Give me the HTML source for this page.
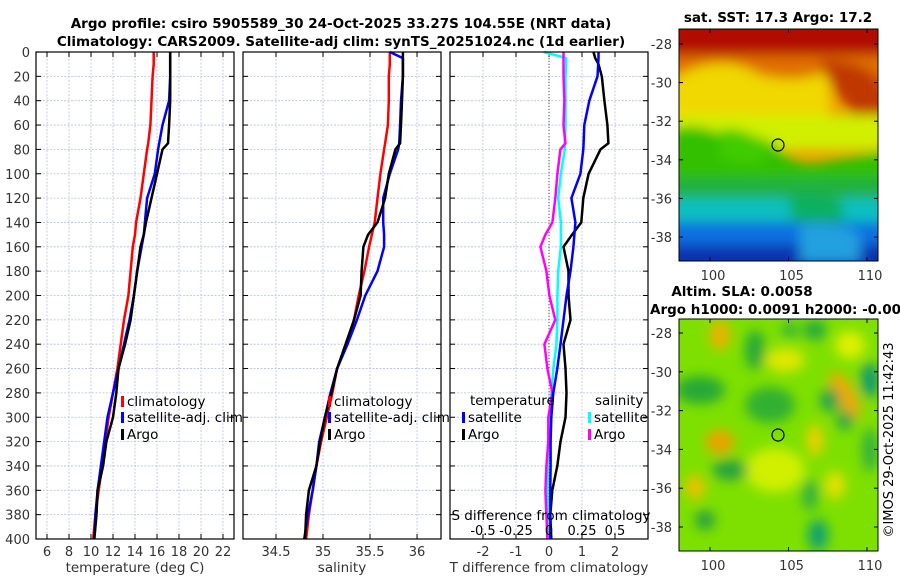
<!DOCTYPE html>
<html><head><meta charset="utf-8"><style>
body{margin:0;background:#fff;}
svg{display:block;font-family:"DejaVu Sans","Liberation Sans",sans-serif;}
</style></head><body>
<svg id="fig" width="900" height="580" viewBox="0 0 900 580" xmlns="http://www.w3.org/2000/svg">
<defs>
<filter id="blur6"><feGaussianBlur stdDeviation="6"/></filter>
<clipPath id="cm1"><rect x="679" y="29" width="199" height="232"/></clipPath>
<clipPath id="cm2"><rect x="679" y="319" width="199" height="232"/></clipPath>
</defs>
<g font-weight="bold" font-size="13.5" text-anchor="middle" fill="#000">
<text x="341" y="28">Argo profile: csiro 5905589_30 24-Oct-2025 33.27S 104.55E (NRT data)</text>
<text x="341" y="46">Climatology: CARS2009. Satellite-adj clim: synTS_20251024.nc (1d earlier)</text>
<text x="778" y="22">sat. SST: 17.3 Argo: 17.2</text>
<text x="742" y="296">Altim. SLA: 0.0058</text>
<text x="650" y="314" text-anchor="start">Argo h1000: 0.0091 h2000: -0.007</text>
</g>
<g id="panels"></g>
<g clip-path="url(#cm1)">
<rect x="679" y="29" width="199" height="232" fill="#f0a000"/>
<g filter="url(#blur6)">
<rect x="660" y="10" width="240" height="45" fill="#b01000"/>
<rect x="660" y="55" width="240" height="30" fill="#e07000"/>
<path d="M670 80 Q720 50 760 75 Q800 85 830 70 L830 130 L670 130Z" fill="#f0d800"/>
<path d="M820 60 Q880 60 890 100 L890 140 Q860 140 850 110 Q830 90 820 60Z" fill="#c03800"/>
<rect x="660" y="115" width="240" height="35" fill="#d0f000"/>
<path d="M670 130 Q700 120 730 140 Q760 130 780 150 Q800 170 830 160 L890 150 L890 180 L670 180Z" fill="#30c000"/>
<path d="M720 130 Q740 125 770 145 L760 165 L720 160Z" fill="#40cc00"/>
<rect x="660" y="178" width="240" height="22" fill="#20b040"/>
<rect x="660" y="198" width="240" height="25" fill="#10c0c0"/>
<path d="M790 195 Q820 190 840 200 Q850 225 830 240 Q800 230 790 215Z" fill="#10b060"/>
<rect x="660" y="222" width="240" height="25" fill="#1070e0"/>
<rect x="660" y="245" width="240" height="30" fill="#0830b0"/>
<path d="M800 225 Q840 220 860 235 L860 262 L800 262Z" fill="#20a0e0"/>
</g>
</g>
<rect x="679" y="29" width="199" height="232" fill="none" stroke="#000"/>
<ellipse cx="778" cy="145" rx="6" ry="6" fill="none" stroke="#000" stroke-width="1.2"/>
<g clip-path="url(#cm2)">
<rect x="679" y="319" width="199" height="232" fill="#7ee000"/>
<g filter="url(#blur6)">
<ellipse cx="720" cy="335" rx="10" ry="15" fill="#f0b000"/>
<ellipse cx="785" cy="360" rx="20" ry="12" fill="#e0e800"/>
<ellipse cx="850" cy="345" rx="15" ry="14" fill="#e0f000"/>
<ellipse cx="845" cy="395" rx="10" ry="26" fill="#f0a800" transform="rotate(-30 845 395)"/>
<ellipse cx="720" cy="442" rx="14" ry="12" fill="#f0a000"/>
<ellipse cx="695" cy="487" rx="10" ry="12" fill="#f0c000"/>
<ellipse cx="775" cy="470" rx="30" ry="22" fill="#d0f000"/>
<ellipse cx="815" cy="440" rx="8" ry="16" fill="#f0d000"/>
<ellipse cx="835" cy="485" rx="10" ry="14" fill="#e8e000"/>
<ellipse cx="700" cy="390" rx="25" ry="14" fill="#28a838"/>
<ellipse cx="770" cy="405" rx="25" ry="18" fill="#30b030"/>
<ellipse cx="755" cy="350" rx="10" ry="20" fill="#28a838"/>
<ellipse cx="815" cy="330" rx="12" ry="10" fill="#28a840"/>
<ellipse cx="870" cy="380" rx="9" ry="18" fill="#109870"/>
<ellipse cx="830" cy="400" rx="10" ry="12" fill="#20a050"/>
<ellipse cx="845" cy="420" rx="8" ry="10" fill="#20a050"/>
<ellipse cx="730" cy="470" rx="18" ry="10" fill="#28a040"/>
<ellipse cx="705" cy="520" rx="10" ry="10" fill="#28a040"/>
<ellipse cx="818" cy="535" rx="10" ry="16" fill="#10a070"/>
<ellipse cx="810" cy="495" rx="8" ry="16" fill="#30b040"/>
<ellipse cx="870" cy="450" rx="8" ry="22" fill="#30b040"/>
<ellipse cx="790" cy="330" rx="8" ry="8" fill="#30b040"/>
</g>
</g>
<rect x="679" y="319" width="199" height="232" fill="none" stroke="#000"/>
<ellipse cx="778" cy="435" rx="6" ry="6" fill="none" stroke="#000" stroke-width="1.2"/>
<g id="mapaxes" font-size="13" fill="#333"></g>
<text x="893" y="440" font-size="13" fill="#000" text-anchor="middle" transform="rotate(-90 893 440)">©IMOS 29-Oct-2025 11:42:43</text>
</svg>
<script>
const depths = [0,5,10,20,40,60,75,80,100,120,140,150,160,180,200,220,240,260,280,300,320,340,360,380,400];
const tempClim = [15.7,15.7,15.7,15.6,15.5,15.4,15.2,15.1,14.8,14.5,14.1,14.0,13.8,13.6,13.4,13.0,12.7,12.4,12.0,11.6,11.3,11.0,10.7,10.4,10.2];
const tempSat  = [17.2,17.2,17.2,17.2,17.1,16.5,16.2,16.1,15.8,15.1,14.9,14.8,14.6,14.2,13.9,13.5,13.0,12.5,12.0,11.5,11.2,10.9,10.6,10.4,10.3];
const tempArgo = [17.2,17.2,17.2,17.2,17.2,17.1,17.0,16.5,16.0,15.5,15.0,14.8,14.5,14.2,13.9,13.6,13.1,12.5,12.3,12.0,11.4,11.1,10.6,10.5,10.3];
const salClim = [35.71,35.71,35.71,35.70,35.70,35.69,35.66,35.65,35.61,35.58,35.55,35.52,35.49,35.44,35.38,35.33,35.25,35.15,35.10,35.04,34.98,34.93,34.89,34.85,34.82];
const salSat  = [35.71,35.85,35.85,35.85,35.83,35.82,35.81,35.80,35.71,35.64,35.64,35.65,35.65,35.58,35.45,35.36,35.26,35.15,35.08,35.02,34.96,34.93,34.89,34.84,34.80];
const salArgo = [35.85,35.85,35.85,35.85,35.84,35.83,35.82,35.77,35.70,35.66,35.58,35.48,35.43,35.41,35.40,35.33,35.24,35.15,35.09,35.02,34.97,34.93,34.85,34.82,34.81];
const dTsat  = [1.50,1.50,1.49,1.47,1.22,1.07,1.05,1.04,0.95,0.68,0.80,0.77,0.74,0.65,0.53,0.44,0.35,0.25,0.13,0.07,0.05,0.05,0.04,0.04,0.04];
const dTargo = [1.35,1.40,1.50,1.60,1.68,1.77,1.80,1.56,1.20,1.04,0.98,0.70,0.44,0.59,0.59,0.65,0.44,0.50,0.53,0.50,0.35,0.25,0.10,0.04,0.07];
const dSsat  = [-0.04,0.13,0.13,0.125,0.125,0.125,0.12,0.12,0.09,0.07,0.09,0.09,0.09,0.07,0.064,0.064,0.056,0.033,0.018,0.003,-0.005,-0.01,-0.012,-0.01,-0.005];
const dSargo = [0.11,0.11,0.11,0.11,0.117,0.11,0.124,0.086,0.064,0.048,0.026,-0.027,-0.065,-0.02,0.003,0.048,-0.035,-0.012,0.026,-0.005,-0.005,-0.02,-0.027,-0.02,-0.012];
const depthTicks = [0,20,40,60,80,100,120,140,160,180,200,220,240,260,280,300,320,340,360,380,400];
const tempTicks = [6,8,10,12,14,16,18,20,22];
const salTicks = [34.5,35,35.5,36];
const dTTicks = [-2,-1,0,1,2];
const dSTicks = [-0.5,-0.25,0,0.25,0.5];
const dSTickLabels = ['-0.5','-0.25','0','0.25','0.5'];
const latTicks = [-28,-30,-32,-34,-36,-38];
const lonTicks = [100,105,110];

const NS='http://www.w3.org/2000/svg';
const G=document.getElementById('panels');
function mk(tag,attrs,parent,text){const e=document.createElementNS(NS,tag);for(const k in attrs)e.setAttribute(k,attrs[k]);if(text!==undefined)e.textContent=text;(parent||G).appendChild(e);return e;}
const Y0=52,Y1=539;
const yScale=d=>Y0+(d/400)*(Y1-Y0);
const panels=[
 {x0:36,x1:234,lo:5,hi:23,ticks:tempTicks,name:'temperature-panel',label:'temperature (deg C)'},
 {x0:243,x1:441,lo:34.149,hi:36.255,ticks:salTicks,name:'salinity-panel',label:'salinity'},
 {x0:450,x1:648,lo:-3,hi:3,ticks:dTTicks,name:'difference-panel',label:'T difference from climatology'}];
panels.forEach(p=>{p.xs=v=>p.x0+(v-p.lo)/(p.hi-p.lo)*(p.x1-p.x0);});
function line(p,vals,color,w,name){
  const pts=depths.map((d,i)=>p.xs(vals[i]).toFixed(1)+','+yScale(d).toFixed(1)).join(' ');
  const e=mk('polyline',{points:pts,fill:'none',stroke:color,'stroke-width':w,'stroke-linejoin':'round'});
  
  
}
panels.forEach((p,pi)=>{
  const g=mk('g',{});
  
  
  depthTicks.forEach(d=>{const y=yScale(d);
    if(d>0&&d<400)mk('line',{x1:p.x0,x2:p.x1,y1:y,y2:y,stroke:'#b8c0dc','stroke-width':0.8,'stroke-dasharray':'2,1.5'},g);
    mk('line',{x1:p.x0,x2:p.x0+5,y1:y,y2:y,stroke:'#000'},g);
    mk('line',{x1:p.x1-5,x2:p.x1,y1:y,y2:y,stroke:'#000'},g);
    if(pi===0){const t=mk('text',{x:30,y:y+5,'text-anchor':'end','font-size':13,fill:'#333'},g,String(d));}
  });
  p.ticks.forEach(v=>{const x=p.xs(v);
    mk('line',{x1:x,x2:x,y1:Y0,y2:Y1,stroke:'#b8c0dc','stroke-width':0.8,'stroke-dasharray':'2,1.5'},g);
    mk('line',{x1:x,x2:x,y1:Y1,y2:Y1-5,stroke:'#000'},g);
    mk('line',{x1:x,x2:x,y1:Y0,y2:Y0+5,stroke:'#000'},g);
    const t=mk('text',{x:x,y:556,'text-anchor':'middle','font-size':13,fill:'#333'},g,String(v));
    
    
  });
  const lab=mk('text',{x:(p.x0+p.x1)/2,y:572,'text-anchor':'middle','font-size':13.5,fill:'#333'},g,p.label);
  
  
});
const P3=panels[2];
mk('line',{x1:P3.xs(0),x2:P3.xs(0),y1:Y0,y2:Y1,stroke:'#555','stroke-width':1,'stroke-dasharray':'1,2'});
line(panels[0],tempClim,'#ff0000',2.5,'temp-climatology-line');
line(panels[0],tempSat,'#0000ff',2.5,'temp-satellite-line');
line(panels[0],tempArgo,'#000000',2.5,'temp-argo-line');
line(panels[1],salClim,'#ff0000',2.5,'sal-climatology-line');
line(panels[1],salSat,'#0000ff',2.5,'sal-satellite-line');
line(panels[1],salArgo,'#000000',2.5,'sal-argo-line');
const SP={xs:v=>P3.xs(v*4)};
line(SP,dSsat,'#00ffff',2.5,'sdiff-satellite-line');
line(SP,dSargo,'#ff00ff',2.5,'sdiff-argo-line');
line(P3,dTargo,'#000000',2.5,'tdiff-argo-line');
line(P3,dTsat,'#0000ff',2.5,'tdiff-satellite-line');
panels.forEach(p=>mk('rect',{x:p.x0,y:Y0,width:p.x1-p.x0,height:Y1-Y0,fill:'none',stroke:'#000','stroke-width':1.2}));
function leg(x,y,color,text,name){
  mk('rect',{x:x,y:y-10,width:3,height:11,fill:color});
  const t=mk('text',{x:x+6,y:y,'font-size':13.5,fill:'#000'},G,text);
  
  
}
[121,328].forEach(x=>{
  leg(x,406,'#ff0000','climatology','legend-climatology');
  leg(x,422,'#0000ff','satellite-adj. clim','legend-satellite-adj');
  leg(x,439,'#000000','Argo','legend-argo');
});
mk('text',{x:470,y:405,'font-size':13.5,fill:'#000'},G,'temperature');
leg(462,422,'#0000ff','satellite','legend-t-satellite');
leg(462,439,'#000000','Argo','legend-t-argo');
mk('text',{x:595,y:405,'font-size':13.5,fill:'#000'},G,'salinity');
leg(588,422,'#00ffff','satellite','legend-s-satellite');
leg(588,439,'#ff00ff','Argo','legend-s-argo');
const st=mk('text',{x:551,y:520,'text-anchor':'middle','font-size':13.5,fill:'#000'},G,'S difference from climatology');


dSTicks.forEach((v,i)=>{const t=mk('text',{x:SP.xs(v),y:535,'text-anchor':'middle','font-size':13,fill:'#000'},G,dSTickLabels[i]);
  
  });
const MA=document.getElementById('mapaxes');
const maps=[{y0:29,y1:261,lat28:44,lat38:237},{y0:319,y1:551,lat28:333,lat38:527}];
const lonX=l=>710+(l-100)*15.7;
maps.forEach(m=>{
  const ly=l=>m.lat28+(l+28)/(-10)*(m.lat38-m.lat28);
  latTicks.forEach(l=>{const y=ly(l);
    mk('line',{x1:679,x2:683,y1:y,y2:y,stroke:'#000'},MA);
    mk('line',{x1:874,x2:878,y1:y,y2:y,stroke:'#000'},MA);
    const t=mk('text',{x:672,y:y+5,'text-anchor':'end'},MA,String(l));
    
    });
  lonTicks.forEach(l=>{const x=lonX(l);
    mk('line',{x1:x,x2:x,y1:m.y1,y2:m.y1-4,stroke:'#000'},MA);
    mk('line',{x1:x,x2:x,y1:m.y0,y2:m.y0+4,stroke:'#000'},MA);
    const t=mk('text',{x:x+3,y:m.y1+19,'text-anchor':'middle'},MA,String(l));
    
    });
});
</script>
</body></html>
